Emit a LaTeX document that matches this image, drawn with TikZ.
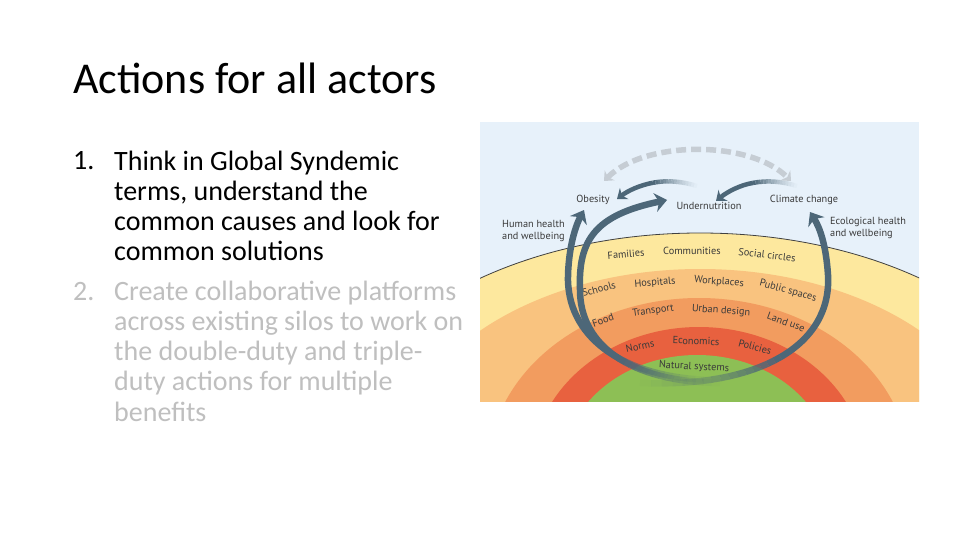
\documentclass[tikz,border=0pt]{standalone}
\usepackage{fontspec}
\setmainfont{Carlito}
\newfontfamily\figfont{PT Sans}
\usepackage{tikz}
\usetikzlibrary{positioning, arrows.meta}
\definecolor{skyblue}{HTML}{E7F1FA}
\definecolor{ringyellow}{HTML}{FDE89E}
\definecolor{ringpeach}{HTML}{F9C37F}
\definecolor{ringorange}{HTML}{F29C5F}
\definecolor{ringred}{HTML}{E8613F}
\definecolor{ringgreen}{HTML}{8DBF55}
\definecolor{loopblue}{HTML}{4D6778}
\definecolor{dashgray}{HTML}{C6CDD4}
\definecolor{labelgray}{HTML}{3A3A3A}
\definecolor{fadedtext}{HTML}{BFBFBF}
\tikzstyle{heading} = [anchor=base west, inner sep=0pt, font=\fontsize{44}{52}\selectfont]
\tikzstyle{point} = [anchor=base west, inner sep=0pt, align=left, font=\fontsize{28}{30.3}\selectfont]
\tikzstyle{bandlabel} = [inner sep=0pt, text=labelgray, font=\figfont\fontsize{10.3}{12.5}\selectfont]
\tikzstyle{bigloop} = [line width=6.5pt, loopblue, -{Stealth[length=12pt,width=19pt]}]
\tikzstyle{swing} = [line width=4.5pt, loopblue, -{Stealth[length=9pt,width=14pt]}]
\tikzstyle{swap} = [line width=5.5pt, dashgray, dash pattern=on 10pt off 5pt, {Stealth[length=8pt,width=14pt]}-{Stealth[length=8pt,width=14pt]}]

% tail of an arrow that fades out: start, control, control, end, prefix, width
\newcommand{\fadetail}[6]{%
	\path (#1) .. controls #2 and #3 .. (#4)
		\foreach \k in {0,...,16} {coordinate[pos=\k/16] (#5\k)};
	\foreach \k in {1,...,16} {%
		\pgfmathtruncatemacro{\prev}{\k-1}%
		\pgfmathsetmacro{\op}{(\k/16)^1.3}%
		\draw[loopblue, line width=#6, opacity=\op] (#5\prev) -- (#5\k);
	}%
}

\begin{document}
\begin{tikzpicture}[x=1pt,y=-1pt]
			\useasboundingbox[fill=white] (0,0) rectangle (960,540);
			% slide text
			\node (title) [heading] at (73,94) {Actions for all actors};
			\node (num1) [point] at (73,170) {1.};
			\node (item1) [point] at (114,260.9) {Think in Global Syndemic\\terms, understand the\\common causes and look for\\common solutions};
			\node (num2) [point, text=fadedtext] at (73,300) {2.};
			\node (item2) [point, text=fadedtext] at (114,421.2) {Create collaborative platforms\\across existing silos to work on\\the double-duty and triple-\\duty actions for multiple\\benefits};
			
			% picture: rings
			\begin{scope}
				\clip (480,122) rectangle (919,401);
				\fill[skyblue] (480,122) rectangle (919,401);
				\fill[ringyellow] (700,470) ellipse [x radius=374, y radius=237];
				\fill[ringpeach] (700,470) ellipse [x radius=305, y radius=201];
				\fill[ringorange] (699,470) ellipse [x radius=211, y radius=172];
				\fill[ringred] (699,470) ellipse [x radius=167, y radius=143];
				\fill[ringgreen] (697,470) ellipse [x radius=135, y radius=115];
				\draw[line width=0.8pt, black!75] (700,470) ellipse [x radius=374, y radius=237];
			\end{scope}
			
			% ring labels
			\node (families) [bandlabel, rotate=5] at (626,254) {Families};
			\node (communities) [bandlabel] at (692,251) {Communities};
			\node (social) [bandlabel, rotate=-7] at (767,255) {Social circles};
			\node (schools) [bandlabel, rotate=15] at (599,289) {Schools};
			\node (hospitals) [bandlabel, rotate=5] at (655,283) {Hospitals};
			\node (workplaces) [bandlabel, rotate=-4] at (719,282) {Workplaces};
			\node (publicspaces) [bandlabel, rotate=-15] at (788,291) {Public spaces};
			\node (food) [bandlabel, rotate=20] at (603,320) {Food};
			\node (transport) [bandlabel, rotate=8] at (653,311) {Transport};
			\node (urbandesign) [bandlabel, rotate=-4] at (721,311) {Urban design};
			\node (landuse) [bandlabel, rotate=-20] at (786,322) {Land use};
			\node (norms) [bandlabel, rotate=12] at (640,346) {Norms};
			\node (economics) [bandlabel, rotate=-2] at (696,341) {Economics};
			\node (policies) [bandlabel, rotate=-15] at (755,347) {Policies};
			\node (natural) [bandlabel, rotate=-3] at (694,367) {Natural systems};
			
			% outcomes
			\node (obesity) [bandlabel] at (593,200) {Obesity};
			\node (undernut) [bandlabel] at (709,206) {Undernutrition};
			\node (climate) [bandlabel] at (804,200) {Climate change};
			\node (human) [bandlabel, align=left, anchor=west] at (502,231) {Human health\\and wellbeing};
			\node (eco) [bandlabel, align=left, anchor=west] at (830,228) {Ecological health\\and wellbeing};
			
			% loops
			\coordinate (tailA) at (712,380);
			\coordinate (jointA) at (604.75,349.25);
			\coordinate (tipA) at (584,210);
			\coordinate (tailB) at (720,383);
			\coordinate (jointB) at (616.25,356.75);
			\coordinate (tipB) at (667,200);
			\coordinate (tailC) at (640,383);
			\coordinate (jointC) at (780.5,357.1);
			\coordinate (tipC) at (810,212);
			\fadetail{tailA}{(666,379)}{(629.5,367.75)}{jointA}{ta}{6.5pt}
			\fadetail{tailB}{(675,382.5)}{(640,373)}{jointB}{tb}{6.5pt}
			\fadetail{tailC}{(700,385.5)}{(748,376)}{jointC}{tc}{6.5pt}
			\draw [bigloop] (jointA) .. controls (580,330.75) and (567,305) .. (568,275) .. controls (569,245) and (576,225) .. (tipA);
			\draw [bigloop] (jointB) .. controls (592.5,340.5) and (580,317.5) .. (580,290) .. controls (578,240) and (595,215) .. (tipB);
			\draw [bigloop] (jointC) .. controls (813,338.25) and (830,310) .. (828,275) .. controls (826,245) and (820,228) .. (tipC);
			
			% top arrows
			\coordinate (tailD) at (697,186);
			\coordinate (jointD) at (652.9,182.75);
			\coordinate (tipD) at (617,199);
			\coordinate (tailE) at (797,186);
			\coordinate (jointE) at (753,182.9);
			\coordinate (tipE) at (716,201);
			\fadetail{tailD}{(681,181)}{(666.25,180.25)}{jointD}{td}{4.5pt}
			\fadetail{tailE}{(781,181)}{(766.4,180.4)}{jointE}{te}{4.5pt}
			\draw [swing] (jointD) .. controls (639.5,185.25) and (627.5,191) .. (tipD);
			\draw [swing] (jointE) .. controls (740,185) and (727,192) .. (tipE);
			
			% dashed exchange
			\coordinate (dashL) at (604,181);
			\coordinate (dashR) at (791,181);
			\draw [swap] (dashL) .. controls (645,140) and (750,140) .. (dashR);
			
		\end{tikzpicture}
\end{document}
